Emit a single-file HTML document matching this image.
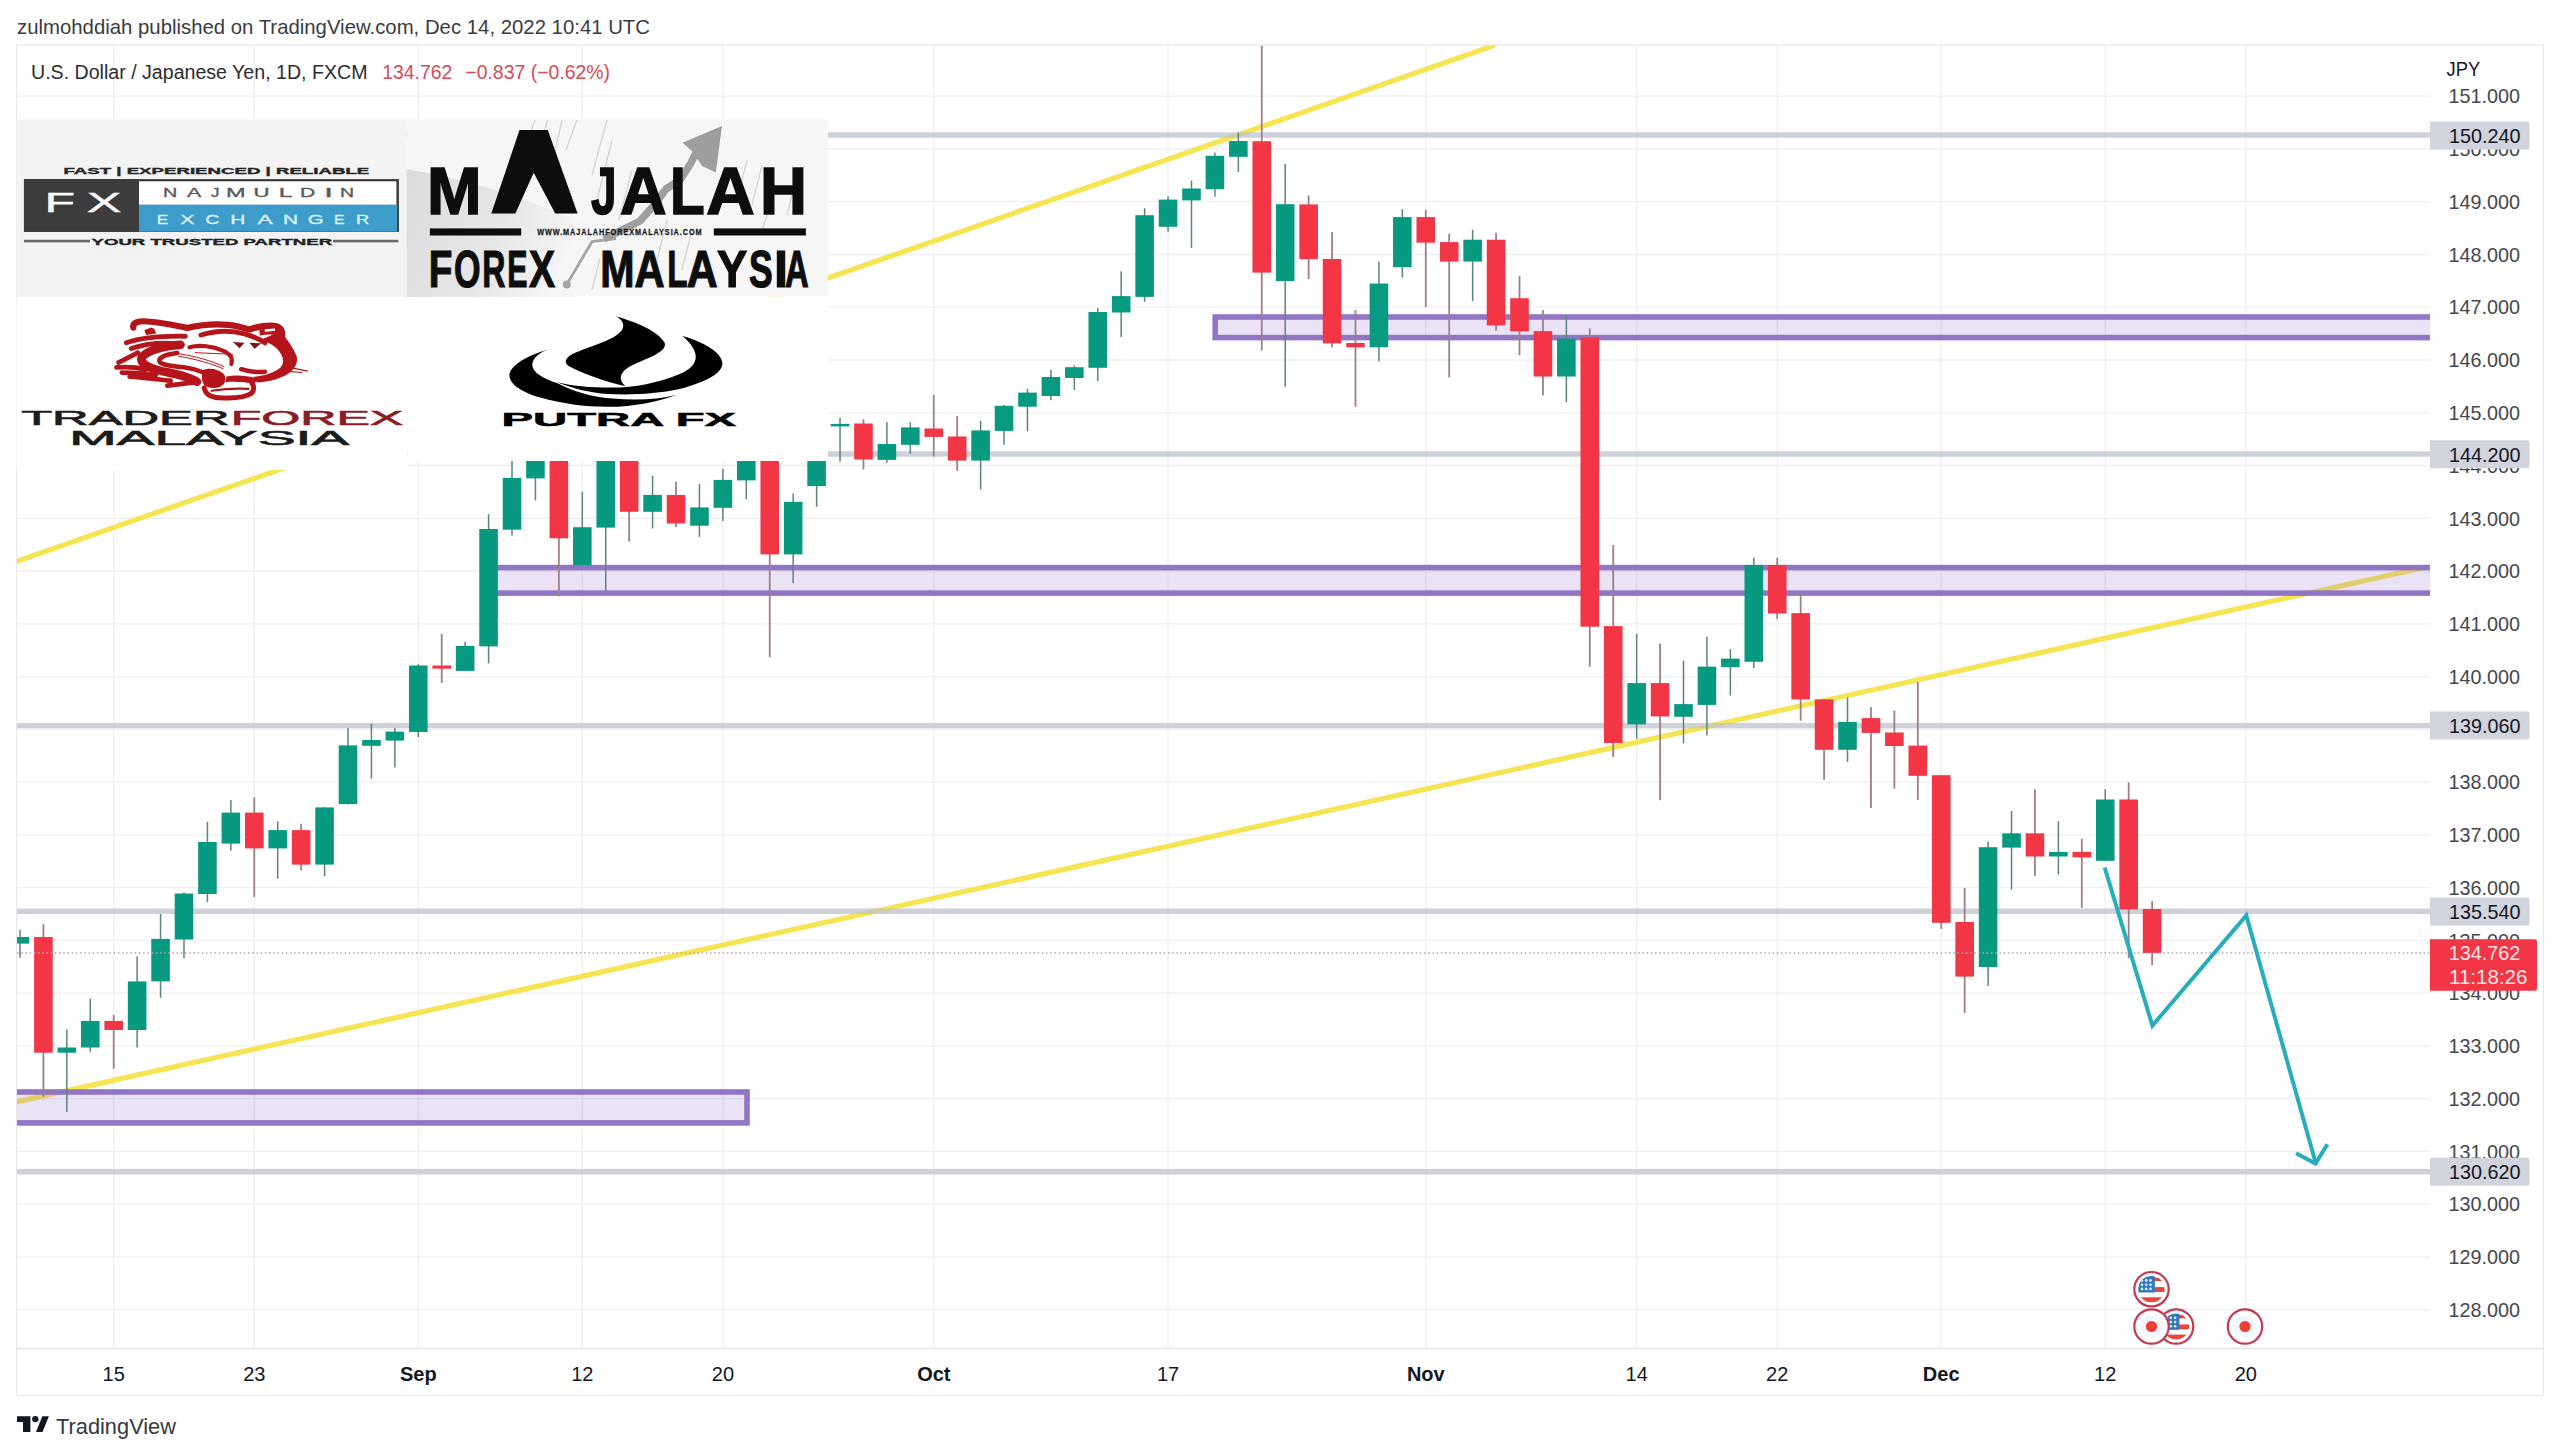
<!DOCTYPE html><html><head><meta charset="utf-8"><title>USDJPY chart</title><style>html,body{margin:0;padding:0;background:#fff;width:2560px;height:1455px;overflow:hidden}svg{position:absolute;left:0;top:0;display:block}text{font-family:"Liberation Sans",sans-serif}</style></head><body><svg width="2560" height="1455" viewBox="0 0 2560 1455"><defs><clipPath id="chart"><rect x="17" y="45.5" width="2413" height="1303"/></clipPath><clipPath id="flag1"><circle cx="2151.5" cy="1289.2" r="13.2"/></clipPath><clipPath id="flag2"><circle cx="2176.1" cy="1326.5" r="13"/></clipPath></defs><text x="17" y="33.6" font-size="20.3" fill="#3a3b3f" textLength="633" lengthAdjust="spacingAndGlyphs">zulmohddiah published on TradingView.com, Dec 14, 2022 10:41 UTC</text><rect x="16.5" y="45" width="2527" height="1350.5" fill="#fff" stroke="#e6e7ea" stroke-width="1.2"/><line x1="16.5" y1="1348.5" x2="2543" y2="1348.5" stroke="#e3e4e8" stroke-width="1.5"/><path d="M17 1309.7H2430 M17 1256.9H2430 M17 1204.2H2430 M17 1151.4H2430 M17 1098.6H2430 M17 1045.9H2430 M17 993.1H2430 M17 940.4H2430 M17 887.6H2430 M17 834.8H2430 M17 782.1H2430 M17 729.3H2430 M17 676.6H2430 M17 623.8H2430 M17 571.0H2430 M17 518.3H2430 M17 465.5H2430 M17 412.8H2430 M17 360.0H2430 M17 307.2H2430 M17 254.5H2430 M17 201.7H2430 M17 149.0H2430 M17 96.2H2430 M113.7 45.5V1348 M254.3 45.5V1348 M418.3 45.5V1348 M582.3 45.5V1348 M722.9 45.5V1348 M933.8 45.5V1348 M1168.0 45.5V1348 M1425.8 45.5V1348 M1636.7 45.5V1348 M1777.2 45.5V1348 M1941.2 45.5V1348 M2105.2 45.5V1348 M2245.8 45.5V1348" stroke="#efeff1" stroke-width="1.3" fill="none"/><g clip-path="url(#chart)"><line x1="10" y1="563.6" x2="1493" y2="45.8" stroke="#f5e552" stroke-width="5.2" stroke-linecap="round"/><line x1="10" y1="1103.3" x2="2424" y2="567.5" stroke="#f5e552" stroke-width="5.2" stroke-linecap="round"/><rect x="1215.2" y="317.0" width="1244.8" height="20.600000000000023" fill="rgba(149,117,205,0.2)" stroke="#9176c4" stroke-width="5.6"/><rect x="487.0" y="567.6" width="1973.0" height="25.5" fill="rgba(149,117,205,0.2)" stroke="#9176c4" stroke-width="5.6"/><rect x="-20" y="1092.0" width="767.0" height="30.90000000000009" fill="rgba(149,117,205,0.2)" stroke="#9176c4" stroke-width="5.6"/><line x1="17" y1="135.0" x2="2430" y2="135.0" stroke="rgba(190,194,205,0.75)" stroke-width="5.4"/><line x1="17" y1="454.0" x2="2430" y2="454.0" stroke="rgba(190,194,205,0.75)" stroke-width="5.4"/><line x1="17" y1="725.6" x2="2430" y2="725.6" stroke="rgba(190,194,205,0.75)" stroke-width="5.4"/><line x1="17" y1="911.3" x2="2430" y2="911.3" stroke="rgba(190,194,205,0.75)" stroke-width="5.4"/><line x1="17" y1="1171.7" x2="2430" y2="1171.7" stroke="rgba(190,194,205,0.75)" stroke-width="5.4"/><rect x="19.23" y="929.8" width="1.5" height="27.9" fill="#5a847f"/><rect x="10.68" y="937" width="18.6" height="6.6" fill="#089981"/><rect x="42.51" y="924.2" width="1.8" height="172.6" fill="#9e7f87"/><rect x="34.11" y="937" width="18.6" height="115.7" fill="#f23645"/><rect x="66.09" y="1029.5" width="1.5" height="82.5" fill="#5a847f"/><rect x="57.54" y="1047.5" width="18.6" height="5.2" fill="#089981"/><rect x="89.52" y="998.6" width="1.5" height="53.2" fill="#5a847f"/><rect x="80.97" y="1020.9" width="18.6" height="26.6" fill="#089981"/><rect x="112.80" y="1014.9" width="1.8" height="53.8" fill="#9e7f87"/><rect x="104.40" y="1020.9" width="18.6" height="9.1" fill="#f23645"/><rect x="136.38" y="956.5" width="1.5" height="91.0" fill="#5a847f"/><rect x="127.83" y="981.4" width="18.6" height="48.6" fill="#089981"/><rect x="159.81" y="914" width="1.5" height="83.7" fill="#5a847f"/><rect x="151.26" y="938.9" width="18.6" height="42.5" fill="#089981"/><rect x="183.24" y="892.4" width="1.5" height="65.8" fill="#5a847f"/><rect x="174.69" y="893.5" width="18.6" height="46.0" fill="#089981"/><rect x="206.67" y="821.8" width="1.5" height="80.3" fill="#5a847f"/><rect x="198.12" y="842" width="18.6" height="52.0" fill="#089981"/><rect x="230.10" y="800" width="1.5" height="50.7" fill="#5a847f"/><rect x="221.55" y="812.6" width="18.6" height="31.0" fill="#089981"/><rect x="253.38" y="797.4" width="1.8" height="99.5" fill="#9e7f87"/><rect x="244.98" y="812.6" width="18.6" height="35.8" fill="#f23645"/><rect x="276.96" y="821.3" width="1.5" height="57.3" fill="#5a847f"/><rect x="268.41" y="830.1" width="18.6" height="18.3" fill="#089981"/><rect x="300.24" y="823.8" width="1.8" height="46.7" fill="#9e7f87"/><rect x="291.84" y="830.1" width="18.6" height="34.5" fill="#f23645"/><rect x="323.82" y="807" width="1.5" height="69.3" fill="#5a847f"/><rect x="315.27" y="807.4" width="18.6" height="57.2" fill="#089981"/><rect x="347.25" y="728.1" width="1.5" height="76.4" fill="#5a847f"/><rect x="338.70" y="745.4" width="18.6" height="58.7" fill="#089981"/><rect x="370.68" y="723.7" width="1.5" height="54.8" fill="#5a847f"/><rect x="362.13" y="740" width="18.6" height="5.8" fill="#089981"/><rect x="394.11" y="728.1" width="1.5" height="39.3" fill="#5a847f"/><rect x="385.56" y="731.6" width="18.6" height="9.0" fill="#089981"/><rect x="417.54" y="664.3" width="1.5" height="72.7" fill="#5a847f"/><rect x="408.99" y="665.5" width="18.6" height="66.5" fill="#089981"/><rect x="440.82" y="633.9" width="1.8" height="49.1" fill="#9e7f87"/><rect x="432.42" y="665.5" width="18.6" height="3.2" fill="#f23645"/><rect x="464.40" y="641.6" width="1.5" height="29.3" fill="#5a847f"/><rect x="455.85" y="645.9" width="18.6" height="25.0" fill="#089981"/><rect x="487.83" y="514.2" width="1.5" height="149.2" fill="#5a847f"/><rect x="479.28" y="529" width="18.6" height="117.4" fill="#089981"/><rect x="511.26" y="440" width="1.5" height="95.6" fill="#5a847f"/><rect x="502.71" y="477.9" width="18.6" height="51.8" fill="#089981"/><rect x="534.69" y="430" width="1.5" height="70.4" fill="#5a847f"/><rect x="526.14" y="440" width="18.6" height="38.4" fill="#089981"/><rect x="557.97" y="430" width="1.8" height="166.4" fill="#9e7f87"/><rect x="549.57" y="440" width="18.6" height="98.3" fill="#f23645"/><rect x="581.55" y="491.8" width="1.5" height="73.2" fill="#5a847f"/><rect x="573.00" y="527.2" width="18.6" height="37.9" fill="#089981"/><rect x="604.98" y="430" width="1.5" height="161.0" fill="#5a847f"/><rect x="596.43" y="440" width="18.6" height="87.6" fill="#089981"/><rect x="628.26" y="430" width="1.8" height="111.5" fill="#9e7f87"/><rect x="619.86" y="440" width="18.6" height="71.8" fill="#f23645"/><rect x="651.84" y="475.7" width="1.5" height="52.8" fill="#5a847f"/><rect x="643.29" y="494.9" width="18.6" height="16.9" fill="#089981"/><rect x="675.12" y="481.5" width="1.8" height="45.5" fill="#9e7f87"/><rect x="666.72" y="495" width="18.6" height="28.5" fill="#f23645"/><rect x="698.70" y="483.9" width="1.5" height="52.9" fill="#5a847f"/><rect x="690.15" y="507.4" width="18.6" height="18.3" fill="#089981"/><rect x="722.13" y="469" width="1.5" height="52.0" fill="#5a847f"/><rect x="713.58" y="479.9" width="18.6" height="27.9" fill="#089981"/><rect x="745.56" y="430" width="1.5" height="69.4" fill="#5a847f"/><rect x="737.01" y="440" width="18.6" height="40.4" fill="#089981"/><rect x="768.84" y="430" width="1.8" height="227.3" fill="#9e7f87"/><rect x="760.44" y="440" width="18.6" height="114.4" fill="#f23645"/><rect x="792.42" y="493.5" width="1.5" height="89.6" fill="#5a847f"/><rect x="783.87" y="501.8" width="18.6" height="52.6" fill="#089981"/><rect x="815.85" y="430" width="1.5" height="76.8" fill="#5a847f"/><rect x="807.30" y="440" width="18.6" height="46.1" fill="#089981"/><rect x="839.28" y="417.7" width="1.5" height="43.9" fill="#5a847f"/><rect x="830.73" y="423.9" width="18.6" height="2.5" fill="#089981"/><rect x="862.56" y="419.3" width="1.8" height="50.2" fill="#9e7f87"/><rect x="854.16" y="423.5" width="18.6" height="36.0" fill="#f23645"/><rect x="886.14" y="422.1" width="1.5" height="40.8" fill="#5a847f"/><rect x="877.59" y="444" width="18.6" height="15.9" fill="#089981"/><rect x="909.57" y="422.1" width="1.5" height="31.7" fill="#5a847f"/><rect x="901.02" y="427.4" width="18.6" height="17.4" fill="#089981"/><rect x="932.85" y="394.9" width="1.8" height="61.7" fill="#9e7f87"/><rect x="924.45" y="428.5" width="18.6" height="8.4" fill="#f23645"/><rect x="956.28" y="415.8" width="1.8" height="55.0" fill="#9e7f87"/><rect x="947.88" y="436.5" width="18.6" height="24.1" fill="#f23645"/><rect x="979.86" y="420.6" width="1.5" height="68.8" fill="#5a847f"/><rect x="971.31" y="430.4" width="18.6" height="30.2" fill="#089981"/><rect x="1003.29" y="405" width="1.5" height="39.8" fill="#5a847f"/><rect x="994.74" y="405.8" width="18.6" height="25.1" fill="#089981"/><rect x="1026.72" y="388.8" width="1.5" height="42.4" fill="#5a847f"/><rect x="1018.17" y="392.6" width="18.6" height="14.1" fill="#089981"/><rect x="1050.15" y="370" width="1.5" height="30.2" fill="#5a847f"/><rect x="1041.60" y="377" width="18.6" height="19.0" fill="#089981"/><rect x="1073.58" y="365.4" width="1.5" height="24.6" fill="#5a847f"/><rect x="1065.03" y="367.2" width="18.6" height="10.8" fill="#089981"/><rect x="1097.01" y="308" width="1.5" height="73.0" fill="#5a847f"/><rect x="1088.46" y="312" width="18.6" height="55.8" fill="#089981"/><rect x="1120.44" y="271.4" width="1.5" height="65.6" fill="#5a847f"/><rect x="1111.89" y="296.1" width="18.6" height="16.4" fill="#089981"/><rect x="1143.87" y="208.3" width="1.5" height="93.5" fill="#5a847f"/><rect x="1135.32" y="215.2" width="18.6" height="81.7" fill="#089981"/><rect x="1167.30" y="196.4" width="1.5" height="35.4" fill="#5a847f"/><rect x="1158.75" y="199.6" width="18.6" height="27.2" fill="#089981"/><rect x="1190.73" y="180.6" width="1.5" height="67.3" fill="#5a847f"/><rect x="1182.18" y="188.5" width="18.6" height="11.9" fill="#089981"/><rect x="1214.16" y="152.6" width="1.5" height="44.0" fill="#5a847f"/><rect x="1205.61" y="155.8" width="18.6" height="33.4" fill="#089981"/><rect x="1237.59" y="132.8" width="1.5" height="39.1" fill="#5a847f"/><rect x="1229.04" y="141" width="18.6" height="15.8" fill="#089981"/><rect x="1260.87" y="45.4" width="1.8" height="305.1" fill="#9e7f87"/><rect x="1252.47" y="141.2" width="18.6" height="131.4" fill="#f23645"/><rect x="1284.45" y="163.8" width="1.5" height="222.8" fill="#5a847f"/><rect x="1275.90" y="204.2" width="18.6" height="76.8" fill="#089981"/><rect x="1307.73" y="195.4" width="1.8" height="83.8" fill="#9e7f87"/><rect x="1299.33" y="204.4" width="18.6" height="54.8" fill="#f23645"/><rect x="1331.16" y="232.1" width="1.8" height="115.2" fill="#9e7f87"/><rect x="1322.76" y="259" width="18.6" height="84.4" fill="#f23645"/><rect x="1354.59" y="310" width="1.8" height="96.8" fill="#9e7f87"/><rect x="1346.19" y="343" width="18.6" height="4.3" fill="#f23645"/><rect x="1378.17" y="261.6" width="1.5" height="99.7" fill="#5a847f"/><rect x="1369.62" y="283.5" width="18.6" height="63.8" fill="#089981"/><rect x="1401.60" y="209.2" width="1.5" height="68.4" fill="#5a847f"/><rect x="1393.05" y="217.1" width="18.6" height="50.1" fill="#089981"/><rect x="1424.88" y="209.8" width="1.8" height="97.3" fill="#9e7f87"/><rect x="1416.48" y="217.1" width="18.6" height="25.6" fill="#f23645"/><rect x="1448.31" y="233.7" width="1.8" height="143.6" fill="#9e7f87"/><rect x="1439.91" y="242.1" width="18.6" height="19.5" fill="#f23645"/><rect x="1471.89" y="229.7" width="1.5" height="71.4" fill="#5a847f"/><rect x="1463.34" y="239.7" width="18.6" height="21.9" fill="#089981"/><rect x="1495.17" y="232.7" width="1.8" height="97.9" fill="#9e7f87"/><rect x="1486.77" y="239.7" width="18.6" height="85.7" fill="#f23645"/><rect x="1518.60" y="276.1" width="1.8" height="79.1" fill="#9e7f87"/><rect x="1510.20" y="298.2" width="18.6" height="33.2" fill="#f23645"/><rect x="1542.03" y="310.1" width="1.8" height="85.3" fill="#9e7f87"/><rect x="1533.63" y="331.1" width="18.6" height="45.4" fill="#f23645"/><rect x="1565.61" y="316.3" width="1.5" height="85.9" fill="#5a847f"/><rect x="1557.06" y="338.5" width="18.6" height="38.0" fill="#089981"/><rect x="1588.89" y="328.6" width="1.8" height="338.0" fill="#9e7f87"/><rect x="1580.49" y="337.3" width="18.6" height="289.4" fill="#f23645"/><rect x="1612.32" y="545" width="1.8" height="211.9" fill="#9e7f87"/><rect x="1603.92" y="626.1" width="18.6" height="116.9" fill="#f23645"/><rect x="1635.90" y="633.7" width="1.5" height="105.3" fill="#5a847f"/><rect x="1627.35" y="683.1" width="18.6" height="41.3" fill="#089981"/><rect x="1659.18" y="643.7" width="1.8" height="156.5" fill="#9e7f87"/><rect x="1650.78" y="683.1" width="18.6" height="33.3" fill="#f23645"/><rect x="1682.76" y="660.6" width="1.5" height="82.8" fill="#5a847f"/><rect x="1674.21" y="704.1" width="18.6" height="12.7" fill="#089981"/><rect x="1706.19" y="636.7" width="1.5" height="98.7" fill="#5a847f"/><rect x="1697.64" y="666.6" width="18.6" height="38.3" fill="#089981"/><rect x="1729.62" y="649.2" width="1.5" height="46.3" fill="#5a847f"/><rect x="1721.07" y="658.6" width="18.6" height="8.6" fill="#089981"/><rect x="1753.05" y="557.6" width="1.5" height="110.4" fill="#5a847f"/><rect x="1744.50" y="565" width="18.6" height="96.8" fill="#089981"/><rect x="1776.33" y="557.7" width="1.8" height="61.2" fill="#9e7f87"/><rect x="1767.93" y="565" width="18.6" height="48.5" fill="#f23645"/><rect x="1799.76" y="592" width="1.8" height="128.6" fill="#9e7f87"/><rect x="1791.36" y="613.1" width="18.6" height="86.3" fill="#f23645"/><rect x="1823.19" y="699" width="1.8" height="80.7" fill="#9e7f87"/><rect x="1814.79" y="699.4" width="18.6" height="50.4" fill="#f23645"/><rect x="1846.77" y="697.5" width="1.5" height="64.5" fill="#5a847f"/><rect x="1838.22" y="721.9" width="18.6" height="27.9" fill="#089981"/><rect x="1870.05" y="707.1" width="1.8" height="100.9" fill="#9e7f87"/><rect x="1861.65" y="718.1" width="18.6" height="14.8" fill="#f23645"/><rect x="1893.48" y="710.4" width="1.8" height="78.3" fill="#9e7f87"/><rect x="1885.08" y="732.5" width="18.6" height="13.5" fill="#f23645"/><rect x="1916.91" y="682" width="1.8" height="117.9" fill="#9e7f87"/><rect x="1908.51" y="745.6" width="18.6" height="30.2" fill="#f23645"/><rect x="1940.34" y="775" width="1.8" height="153.9" fill="#9e7f87"/><rect x="1931.94" y="775.2" width="18.6" height="147.6" fill="#f23645"/><rect x="1963.77" y="888" width="1.8" height="124.8" fill="#9e7f87"/><rect x="1955.37" y="922" width="18.6" height="54.6" fill="#f23645"/><rect x="1987.35" y="841.7" width="1.5" height="144.3" fill="#5a847f"/><rect x="1978.80" y="847.2" width="18.6" height="119.8" fill="#089981"/><rect x="2010.78" y="811" width="1.5" height="78.4" fill="#5a847f"/><rect x="2002.23" y="833.3" width="18.6" height="14.3" fill="#089981"/><rect x="2034.06" y="789.3" width="1.8" height="86.7" fill="#9e7f87"/><rect x="2025.66" y="833.3" width="18.6" height="23.2" fill="#f23645"/><rect x="2057.64" y="821.2" width="1.5" height="53.3" fill="#5a847f"/><rect x="2049.09" y="851.9" width="18.6" height="4.6" fill="#089981"/><rect x="2080.92" y="838.9" width="1.8" height="69.0" fill="#9e7f87"/><rect x="2072.52" y="851.9" width="18.6" height="5.5" fill="#f23645"/><rect x="2104.50" y="789.3" width="1.5" height="71.5" fill="#5a847f"/><rect x="2095.95" y="799.5" width="18.6" height="61.3" fill="#089981"/><rect x="2127.78" y="782.3" width="1.8" height="175.9" fill="#9e7f87"/><rect x="2119.38" y="799.5" width="18.6" height="109.9" fill="#f23645"/><rect x="2151.21" y="901" width="1.8" height="64.1" fill="#9e7f87"/><rect x="2142.81" y="909" width="18.6" height="44.0" fill="#f23645"/><line x1="17" y1="953" x2="2430" y2="953" stroke="#b9a3a8" stroke-width="1.3" stroke-dasharray="1.6 2.6"/><polyline points="2104.7,867.6 2152.4,1025.6 2246.3,915.5 2315.5,1162.2" fill="none" stroke="#28adbd" stroke-width="4" stroke-linejoin="miter" stroke-linecap="butt"/><polyline points="2296.1,1153.2 2315.5,1163.5 2327.4,1144.2" fill="none" stroke="#28adbd" stroke-width="4" stroke-linejoin="miter"/></g><circle cx="2151.5" cy="1289.2" r="17.2" fill="#fff" stroke="#c23b52" stroke-width="2.2"/><g clip-path="url(#flag1)"><rect x="2138.3" y="1276.0" width="26.4" height="26.4" fill="#fff"/><rect x="2138.3" y="1277.60" width="26.4" height="3.50" fill="#e8453c"/><rect x="2138.3" y="1287.10" width="26.4" height="4.90" fill="#e8453c"/><rect x="2138.3" y="1297.30" width="26.4" height="5.10" fill="#e8453c"/><rect x="2138.3" y="1276.0" width="16.5" height="16.5" fill="#3478c0"/><circle cx="2142.00" cy="1280.40" r="1.3" fill="#dff0ff"/><circle cx="2142.00" cy="1284.70" r="1.3" fill="#dff0ff"/><circle cx="2142.00" cy="1288.90" r="1.3" fill="#dff0ff"/><circle cx="2146.20" cy="1280.40" r="1.3" fill="#dff0ff"/><circle cx="2146.20" cy="1284.70" r="1.3" fill="#dff0ff"/><circle cx="2146.20" cy="1288.90" r="1.3" fill="#dff0ff"/><circle cx="2150.50" cy="1280.40" r="1.3" fill="#dff0ff"/><circle cx="2150.50" cy="1284.70" r="1.3" fill="#dff0ff"/><circle cx="2150.50" cy="1288.90" r="1.3" fill="#dff0ff"/></g><circle cx="2176.1" cy="1326.5" r="17.2" fill="#fff" stroke="#c23b52" stroke-width="2.2"/><g clip-path="url(#flag2)"><rect x="2162.9" y="1313.3" width="26.4" height="26.4" fill="#fff"/><rect x="2162.9" y="1314.90" width="26.4" height="3.50" fill="#e8453c"/><rect x="2162.9" y="1324.40" width="26.4" height="4.90" fill="#e8453c"/><rect x="2162.9" y="1334.60" width="26.4" height="5.10" fill="#e8453c"/><rect x="2162.9" y="1313.3" width="16.5" height="16.5" fill="#3478c0"/><circle cx="2166.60" cy="1317.70" r="1.3" fill="#dff0ff"/><circle cx="2166.60" cy="1322.00" r="1.3" fill="#dff0ff"/><circle cx="2166.60" cy="1326.20" r="1.3" fill="#dff0ff"/><circle cx="2170.80" cy="1317.70" r="1.3" fill="#dff0ff"/><circle cx="2170.80" cy="1322.00" r="1.3" fill="#dff0ff"/><circle cx="2170.80" cy="1326.20" r="1.3" fill="#dff0ff"/><circle cx="2175.10" cy="1317.70" r="1.3" fill="#dff0ff"/><circle cx="2175.10" cy="1322.00" r="1.3" fill="#dff0ff"/><circle cx="2175.10" cy="1326.20" r="1.3" fill="#dff0ff"/></g><circle cx="2151.5" cy="1326.5" r="17.2" fill="#fff" stroke="#c23b52" stroke-width="2.2"/><circle cx="2151.5" cy="1326.5" r="11" fill="#f3f6fc"/><circle cx="2151.5" cy="1326.5" r="5.6" fill="#ee4036"/><circle cx="2245" cy="1326.5" r="17.2" fill="#fff" stroke="#c23b52" stroke-width="2.2"/><circle cx="2245" cy="1326.5" r="11" fill="#f3f6fc"/><circle cx="2245" cy="1326.5" r="5.6" fill="#ee4036"/><g><defs><linearGradient id="gblob" x1="0" y1="0" x2="1" y2="0.3"><stop offset="0" stop-color="#d4d4d4"/><stop offset="0.6" stop-color="#e3e3e3"/><stop offset="1" stop-color="#f5f5f5"/></linearGradient></defs><rect x="16.5" y="119.5" width="390" height="178" fill="#f3f3f3"/><rect x="406.5" y="119.5" width="421.5" height="177" fill="#f6f6f6"/><rect x="16.5" y="297" width="391" height="173" fill="#fff"/><rect x="407.5" y="296.5" width="420.5" height="164.5" fill="#fff"/><text x="63.42" y="174" font-size="9.2" font-weight="bold" fill="#262626" stroke="#262626" stroke-width="0.35" textLength="305.86" lengthAdjust="spacingAndGlyphs">FAST | EXPERIENCED | RELIABLE</text><rect x="25" y="180.2" width="372.5" height="50.6" fill="#fff" stroke="#3a3a3a" stroke-width="2.2"/><rect x="24" y="179.2" width="115" height="52.6" fill="#3c3c3c"/><rect x="139" y="204.6" width="259.5" height="27" fill="#3d9cca"/><rect x="397" y="179.2" width="2" height="52.6" fill="#444"/><text x="44.47" y="211.8" font-size="28" fill="#fbfbfb" stroke="#fbfbfb" stroke-width="0.4" textLength="30.57" lengthAdjust="spacingAndGlyphs">F</text><text x="86.83" y="211.8" font-size="28" fill="#fbfbfb" stroke="#fbfbfb" stroke-width="0.4" textLength="34.61" lengthAdjust="spacingAndGlyphs">X</text><text x="163.02" y="197.4" font-size="12.4" fill="#5a5a5a" stroke="#5a5a5a" stroke-width="0.3" textLength="14.25" lengthAdjust="spacingAndGlyphs">N</text><text x="187.10" y="197.4" font-size="12.4" fill="#5a5a5a" stroke="#5a5a5a" stroke-width="0.3" textLength="14.20" lengthAdjust="spacingAndGlyphs">A</text><text x="210.90" y="197.4" font-size="12.4" fill="#5a5a5a" stroke="#5a5a5a" stroke-width="0.3" textLength="8.41" lengthAdjust="spacingAndGlyphs">J</text><text x="226.01" y="197.4" font-size="12.4" fill="#5a5a5a" stroke="#5a5a5a" stroke-width="0.3" textLength="19.59" lengthAdjust="spacingAndGlyphs">M</text><text x="253.43" y="197.4" font-size="12.4" fill="#5a5a5a" stroke="#5a5a5a" stroke-width="0.3" textLength="16.03" lengthAdjust="spacingAndGlyphs">U</text><text x="278.81" y="197.4" font-size="12.4" fill="#5a5a5a" stroke="#5a5a5a" stroke-width="0.3" textLength="13.78" lengthAdjust="spacingAndGlyphs">L</text><text x="299.91" y="197.4" font-size="12.4" fill="#5a5a5a" stroke="#5a5a5a" stroke-width="0.3" textLength="15.24" lengthAdjust="spacingAndGlyphs">D</text><text x="324.35" y="197.4" font-size="12.4" fill="#5a5a5a" stroke="#5a5a5a" stroke-width="0.3" textLength="8.71" lengthAdjust="spacingAndGlyphs">I</text><text x="340.04" y="197.4" font-size="12.4" fill="#5a5a5a" stroke="#5a5a5a" stroke-width="0.3" textLength="14.12" lengthAdjust="spacingAndGlyphs">N</text><text x="156.84" y="224.1" font-size="12.4" fill="#def2f8" stroke="#def2f8" stroke-width="0.3" textLength="11.43" lengthAdjust="spacingAndGlyphs">E</text><text x="180.27" y="224.1" font-size="12.4" fill="#def2f8" stroke="#def2f8" stroke-width="0.3" textLength="14.25" lengthAdjust="spacingAndGlyphs">X</text><text x="205.36" y="224.1" font-size="12.4" fill="#def2f8" stroke="#def2f8" stroke-width="0.3" textLength="14.27" lengthAdjust="spacingAndGlyphs">C</text><text x="230.22" y="224.1" font-size="12.4" fill="#def2f8" stroke="#def2f8" stroke-width="0.3" textLength="15.16" lengthAdjust="spacingAndGlyphs">H</text><text x="257.49" y="224.1" font-size="12.4" fill="#def2f8" stroke="#def2f8" stroke-width="0.3" textLength="15.10" lengthAdjust="spacingAndGlyphs">A</text><text x="283.12" y="224.1" font-size="12.4" fill="#def2f8" stroke="#def2f8" stroke-width="0.3" textLength="15.16" lengthAdjust="spacingAndGlyphs">N</text><text x="307.83" y="224.1" font-size="12.4" fill="#def2f8" stroke="#def2f8" stroke-width="0.3" textLength="15.86" lengthAdjust="spacingAndGlyphs">G</text><text x="333.96" y="224.1" font-size="12.4" fill="#def2f8" stroke="#def2f8" stroke-width="0.3" textLength="10.45" lengthAdjust="spacingAndGlyphs">E</text><text x="356.13" y="224.1" font-size="12.4" fill="#def2f8" stroke="#def2f8" stroke-width="0.3" textLength="13.29" lengthAdjust="spacingAndGlyphs">R</text><rect x="24" y="239.8" width="66" height="2.6" fill="#6a6a6a"/><rect x="333" y="239.8" width="65.5" height="2.6" fill="#6a6a6a"/><text x="91.55" y="244.5" font-size="9.8" font-weight="bold" fill="#222" stroke="#222" stroke-width="0.35" textLength="240.58" lengthAdjust="spacingAndGlyphs">YOUR TRUSTED PARTNER</text><path d="M406.5 169.5 C450 175 520 195 590 226 L575 297 L406.5 297 Z" fill="url(#gblob)" opacity="0.8"/><path d="M535 120L527 142 M548 120L538 150 M562 120L553 160 M577 120L566 150 M607 120L592 175 M612 140L597 200 M632 170L619 220 M667 220L657 260 M692 230L682 270 M747 160L737 200 M762 165L752 205 M797 175L787 215 M772 200L762 230 M600 258L592 290" stroke="#d5d6d8" stroke-width="1.4" fill="none"/><path d="M566.8 284.4 L592 241.7 L616 238.5" stroke="#a5a5a5" stroke-width="2.8" fill="none" stroke-linejoin="round"/><circle cx="566.8" cy="284.4" r="4" fill="#a5a5a5"/><polyline points="604,239 640,221 655,204 666,189 680,180 691,163 697,150" stroke="#9e9e9e" stroke-width="7.5" fill="none" stroke-linejoin="round"/><polygon points="722,126 682.4,142.7 692,151 702,166 715.8,172.4" fill="#9e9e9e"/><text x="427.08" y="213.5" font-size="66" font-weight="bold" fill="#0d0d0d" stroke="#0d0d0d" stroke-width="1.6" textLength="54.58" lengthAdjust="spacingAndGlyphs">M</text><path d="M491.3 213.5 L519.5 130 L547.8 130 L577.6 213.5 L555.2 213.5 L533.7 172.8 L515.4 213.5 Z" fill="#0d0d0d"/><text x="591.01" y="213.5" font-size="66" font-weight="bold" fill="#0d0d0d" stroke="#0d0d0d" stroke-width="1.6" textLength="25.54" lengthAdjust="spacingAndGlyphs">J</text><text x="619.99" y="213.5" font-size="66" font-weight="bold" fill="#0d0d0d" stroke="#0d0d0d" stroke-width="1.6" textLength="46.56" lengthAdjust="spacingAndGlyphs">A</text><text x="670.07" y="213.5" font-size="66" font-weight="bold" fill="#0d0d0d" stroke="#0d0d0d" stroke-width="1.6" textLength="34.68" lengthAdjust="spacingAndGlyphs">L</text><text x="706.22" y="213.5" font-size="66" font-weight="bold" fill="#0d0d0d" stroke="#0d0d0d" stroke-width="1.6" textLength="48.40" lengthAdjust="spacingAndGlyphs">A</text><text x="760.01" y="213.5" font-size="66" font-weight="bold" fill="#0d0d0d" stroke="#0d0d0d" stroke-width="1.6" textLength="46.96" lengthAdjust="spacingAndGlyphs">H</text><rect x="429.9" y="228.4" width="91.3" height="7.1" fill="#0d0d0d"/><rect x="713.8" y="228.4" width="92.1" height="7.1" fill="#0d0d0d"/><text x="537.13" y="235.1" font-size="9.4" font-weight="bold" fill="#1a1a1a" stroke="#1a1a1a" stroke-width="0.3" textLength="165.40" lengthAdjust="spacingAndGlyphs" letter-spacing="1.2">WWW.MAJALAHFOREXMALAYSIA.COM</text><text x="428.69" y="287.3" font-size="52" font-weight="bold" fill="#0d0d0d" stroke="#0d0d0d" stroke-width="1.2" textLength="23.59" lengthAdjust="spacingAndGlyphs">F</text><text x="454.04" y="287.3" font-size="52" font-weight="bold" fill="#0d0d0d" stroke="#0d0d0d" stroke-width="1.2" textLength="26.53" lengthAdjust="spacingAndGlyphs">O</text><text x="482.33" y="287.3" font-size="52" font-weight="bold" fill="#0d0d0d" stroke="#0d0d0d" stroke-width="1.2" textLength="23.18" lengthAdjust="spacingAndGlyphs">R</text><text x="507.35" y="287.3" font-size="52" font-weight="bold" fill="#0d0d0d" stroke="#0d0d0d" stroke-width="1.2" textLength="20.25" lengthAdjust="spacingAndGlyphs">E</text><text x="528.91" y="287.3" font-size="52" font-weight="bold" fill="#0d0d0d" stroke="#0d0d0d" stroke-width="1.2" textLength="26.06" lengthAdjust="spacingAndGlyphs">X</text><text x="600.32" y="287.3" font-size="52" font-weight="bold" fill="#0d0d0d" stroke="#0d0d0d" stroke-width="1.2" textLength="34.28" lengthAdjust="spacingAndGlyphs">M</text><text x="634.46" y="287.3" font-size="52" font-weight="bold" fill="#0d0d0d" stroke="#0d0d0d" stroke-width="1.2" textLength="30.07" lengthAdjust="spacingAndGlyphs">A</text><text x="667.36" y="287.3" font-size="52" font-weight="bold" fill="#0d0d0d" stroke="#0d0d0d" stroke-width="1.2" textLength="20.26" lengthAdjust="spacingAndGlyphs">L</text><text x="686.73" y="287.3" font-size="52" font-weight="bold" fill="#0d0d0d" stroke="#0d0d0d" stroke-width="1.2" textLength="30.94" lengthAdjust="spacingAndGlyphs">A</text><text x="716.91" y="287.3" font-size="52" font-weight="bold" fill="#0d0d0d" stroke="#0d0d0d" stroke-width="1.2" textLength="30.27" lengthAdjust="spacingAndGlyphs">Y</text><text x="749.04" y="287.3" font-size="52" font-weight="bold" fill="#0d0d0d" stroke="#0d0d0d" stroke-width="1.2" textLength="23.67" lengthAdjust="spacingAndGlyphs">S</text><text x="773.99" y="287.3" font-size="52" font-weight="bold" fill="#0d0d0d" stroke="#0d0d0d" stroke-width="1.2" textLength="14.04" lengthAdjust="spacingAndGlyphs">I</text><text x="784.98" y="287.3" font-size="52" font-weight="bold" fill="#0d0d0d" stroke="#0d0d0d" stroke-width="1.2" textLength="23.71" lengthAdjust="spacingAndGlyphs">A</text><g transform="translate(105,310) scale(0.08203)" fill="none" stroke="#b5141b" stroke-linecap="round" stroke-linejoin="round"><path stroke-width="75" d="M345,215 C330,150 420,130 520,140 C700,150 850,190 1000,218 C1150,185 1350,168 1500,182 C1600,192 1680,215 1760,238 C1850,205 1950,185 2060,192 C2140,202 2170,250 2160,320"/><path stroke="none" fill="#b5141b" d="M2140,260 C2220,360 2290,450 2335,560 C2360,650 2300,730 2240,770 C2150,835 2000,875 1850,885 L1810,815 C1950,800 2070,760 2140,700 C2195,640 2175,560 2095,470 C2045,420 1975,385 1895,365 Z"/><path stroke="none" fill="#b5141b" d="M1880,250 C1970,195 2080,185 2150,228 L2175,330 C2110,300 2000,290 1890,310 Z"/><path stroke="#fff" stroke-width="30" d="M1960,250 L2060,240"/><path stroke-width="60" d="M1170,305 C1350,250 1550,250 1700,290 C1800,320 1880,350 1950,400"/><path stroke-width="105" d="M920,425 C700,435 505,500 445,580 C420,660 560,720 760,760 C900,790 1050,825 1120,875"/><path stroke-width="55" d="M880,525 C720,545 645,585 665,632 C695,672 820,682 980,702 C1080,717 1150,742 1200,762"/><path stroke-width="58" d="M260,400 C400,350 600,312 980,320 M320,470 C480,420 650,392 830,410 M165,640 C250,600 320,560 400,520 M140,700 C300,690 400,700 500,722 M205,762 C400,762 500,772 620,792 M300,812 C450,822 600,842 800,862 M760,922 C900,902 1000,892 1100,882"/><path stroke-width="50" d="M1030,455 C1150,420 1320,440 1450,500 C1530,540 1560,600 1540,660"/><path stroke-width="12" d="M870,530 C1100,560 1300,620 1450,690 M900,565 C1100,595 1300,655 1440,715 M1100,520 L1560,540"/><path stroke="none" fill="#7d0f15" d="M1560,390 L1700,400 L1640,465 Z M1760,400 L1905,405 L1825,472 Z"/><path stroke="none" fill="#b5141b" d="M1195,735 C1280,695 1385,725 1445,778 C1490,830 1470,905 1405,935 C1330,965 1245,955 1205,905 C1175,862 1175,790 1195,735 Z"/><path stroke-width="62" d="M1210,950 C1230,1040 1300,1072 1450,1072 C1600,1077 1720,1062 1790,1012 C1822,972 1812,922 1792,892"/><path stroke-width="26" d="M1300,985 C1450,962 1600,952 1750,962"/><path stroke-width="55" d="M1660,722 C1750,752 1850,762 1950,752"/><path stroke-width="14" d="M2200,690 L2470,745 M2150,742 L2400,762"/><path stroke="none" fill="#b5141b" d="M480,245 L525,228 L560,212 L600,228 L625,285 L500,305 Z"/><path stroke="none" fill="#b5141b" d="M1480,810 C1600,790 1750,800 1860,840 L1820,900 C1700,880 1600,870 1470,880 Z"/></g><text x="21.16" y="425" font-size="20.6" fill="#1c1c1c" stroke="#1c1c1c" stroke-width="0.6" textLength="208.39" lengthAdjust="spacingAndGlyphs">TRADER</text><text x="230.67" y="425" font-size="20.6" fill="#8a1d27" stroke="#8a1d27" stroke-width="0.6" textLength="172.66" lengthAdjust="spacingAndGlyphs">FOREX</text><text x="69.21" y="445.3" font-size="20.6" fill="#1c1c1c" stroke="#1c1c1c" stroke-width="0.6" textLength="280.05" lengthAdjust="spacingAndGlyphs">MALAYSIA</text><g transform="translate(500,310) scale(0.08985)" fill="#000"><path d="M560,430 C380,480 150,580 108,700 C80,820 250,920 450,975 C700,1045 950,1080 1200,1078 C1500,1075 1750,1020 1960,945 C1750,1000 1500,1005 1250,985 C1000,965 800,900 640,815 C480,760 370,700 360,620 C355,540 430,470 560,430 Z"/><path d="M630,800 C800,850 1100,870 1340,862 C1600,850 1850,780 2050,690 C2220,600 2230,460 2030,290 C2250,350 2470,470 2475,590 C2480,700 2300,800 2000,880 C1750,935 1450,950 1200,935 C1000,920 800,870 630,800 Z"/><path d="M1290,70 C1500,130 1750,230 1830,360 C1870,450 1700,520 1500,600 C1340,670 1300,760 1400,850 C1150,790 900,700 760,620 C700,580 740,510 850,470 C1050,390 1280,330 1360,220 C1390,150 1360,110 1290,70 Z"/></g><text x="501.56" y="426.3" font-size="18.2" font-weight="bold" fill="#000" stroke="#000" stroke-width="0.5" textLength="234.49" lengthAdjust="spacingAndGlyphs">PUTRA FX</text></g><text x="31" y="78.6" font-size="19.6" fill="#2a2c31" textLength="336.5" lengthAdjust="spacingAndGlyphs">U.S. Dollar / Japanese Yen, 1D, FXCM</text><text x="382.3" y="78.6" font-size="19.6" fill="#d64a5a" textLength="70" lengthAdjust="spacingAndGlyphs">134.762</text><text x="465.3" y="78.6" font-size="19.6" fill="#d64a5a" textLength="144.8" lengthAdjust="spacingAndGlyphs">−0.837 (−0.62%)</text><text x="2446.6" y="75.6" font-size="20.5" fill="#131722" textLength="33.5" lengthAdjust="spacingAndGlyphs">JPY</text><text x="2520" y="1316.9" font-size="19.8" fill="#45474d" text-anchor="end">128.000</text><text x="2520" y="1264.1" font-size="19.8" fill="#45474d" text-anchor="end">129.000</text><text x="2520" y="1211.4" font-size="19.8" fill="#45474d" text-anchor="end">130.000</text><text x="2520" y="1158.6" font-size="19.8" fill="#45474d" text-anchor="end">131.000</text><text x="2520" y="1105.8" font-size="19.8" fill="#45474d" text-anchor="end">132.000</text><text x="2520" y="1053.1" font-size="19.8" fill="#45474d" text-anchor="end">133.000</text><text x="2520" y="1000.3" font-size="19.8" fill="#45474d" text-anchor="end">134.000</text><text x="2520" y="947.6" font-size="19.8" fill="#45474d" text-anchor="end">135.000</text><text x="2520" y="894.8" font-size="19.8" fill="#45474d" text-anchor="end">136.000</text><text x="2520" y="842.0" font-size="19.8" fill="#45474d" text-anchor="end">137.000</text><text x="2520" y="789.3" font-size="19.8" fill="#45474d" text-anchor="end">138.000</text><text x="2520" y="736.5" font-size="19.8" fill="#45474d" text-anchor="end">139.000</text><text x="2520" y="683.8" font-size="19.8" fill="#45474d" text-anchor="end">140.000</text><text x="2520" y="631.0" font-size="19.8" fill="#45474d" text-anchor="end">141.000</text><text x="2520" y="578.2" font-size="19.8" fill="#45474d" text-anchor="end">142.000</text><text x="2520" y="525.5" font-size="19.8" fill="#45474d" text-anchor="end">143.000</text><text x="2520" y="472.7" font-size="19.8" fill="#45474d" text-anchor="end">144.000</text><text x="2520" y="420.0" font-size="19.8" fill="#45474d" text-anchor="end">145.000</text><text x="2520" y="367.2" font-size="19.8" fill="#45474d" text-anchor="end">146.000</text><text x="2520" y="314.4" font-size="19.8" fill="#45474d" text-anchor="end">147.000</text><text x="2520" y="261.7" font-size="19.8" fill="#45474d" text-anchor="end">148.000</text><text x="2520" y="208.9" font-size="19.8" fill="#45474d" text-anchor="end">149.000</text><text x="2520" y="156.2" font-size="19.8" fill="#45474d" text-anchor="end">150.000</text><text x="2520" y="103.4" font-size="19.8" fill="#45474d" text-anchor="end">151.000</text><path d="M2430 121.5 H2527 Q2529.5 121.5 2529.5 124.0 V147.0 Q2529.5 149.5 2527 149.5 H2430 Z" fill="#d1d4dc"/><text x="2520.5" y="142.7" font-size="19.8" fill="#131722" text-anchor="end">150.240</text><path d="M2430 440.3 H2527 Q2529.5 440.3 2529.5 442.8 V465.8 Q2529.5 468.3 2527 468.3 H2430 Z" fill="#d1d4dc"/><text x="2520.5" y="461.5" font-size="19.8" fill="#131722" text-anchor="end">144.200</text><path d="M2430 711.6 H2527 Q2529.5 711.6 2529.5 714.1 V737.1 Q2529.5 739.6 2527 739.6 H2430 Z" fill="#d1d4dc"/><text x="2520.5" y="732.8" font-size="19.8" fill="#131722" text-anchor="end">139.060</text><path d="M2430 897.6 H2527 Q2529.5 897.6 2529.5 900.1 V923.1 Q2529.5 925.6 2527 925.6 H2430 Z" fill="#d1d4dc"/><text x="2520.5" y="918.8" font-size="19.8" fill="#131722" text-anchor="end">135.540</text><path d="M2430 1157.7 H2527 Q2529.5 1157.7 2529.5 1160.2 V1183.2 Q2529.5 1185.7 2527 1185.7 H2430 Z" fill="#d1d4dc"/><text x="2520.5" y="1178.9" font-size="19.8" fill="#131722" text-anchor="end">130.620</text><path d="M2430 939.2 H2534.5 Q2537 939.2 2537 941.7 V988.2 Q2537 990.7 2534.5 990.7 H2430 Z" fill="#f23645"/><text x="2520.3" y="960" font-size="19.8" fill="#ffe4e7" text-anchor="end">134.762</text><text x="2449" y="983.6" font-size="19.8" fill="#ffe4e7" textLength="78.5" lengthAdjust="spacingAndGlyphs">11:18:26</text><text x="113.7" y="1380.6" font-size="20" fill="#131722" text-anchor="middle">15</text><text x="254.3" y="1380.6" font-size="20" fill="#131722" text-anchor="middle">23</text><text x="418.3" y="1380.6" font-size="20" fill="#131722" text-anchor="middle" font-weight="bold">Sep</text><text x="582.3" y="1380.6" font-size="20" fill="#131722" text-anchor="middle">12</text><text x="722.9" y="1380.6" font-size="20" fill="#131722" text-anchor="middle">20</text><text x="933.8" y="1380.6" font-size="20" fill="#131722" text-anchor="middle" font-weight="bold">Oct</text><text x="1168.0" y="1380.6" font-size="20" fill="#131722" text-anchor="middle">17</text><text x="1425.8" y="1380.6" font-size="20" fill="#131722" text-anchor="middle" font-weight="bold">Nov</text><text x="1636.7" y="1380.6" font-size="20" fill="#131722" text-anchor="middle">14</text><text x="1777.2" y="1380.6" font-size="20" fill="#131722" text-anchor="middle">22</text><text x="1941.2" y="1380.6" font-size="20" fill="#131722" text-anchor="middle" font-weight="bold">Dec</text><text x="2105.2" y="1380.6" font-size="20" fill="#131722" text-anchor="middle">12</text><text x="2245.8" y="1380.6" font-size="20" fill="#131722" text-anchor="middle">20</text><path d="M17 1416.3 H30.4 V1432.1 H23 V1421.9 H17 Z" fill="#131722"/><circle cx="35.3" cy="1419.1" r="3.2" fill="#131722"/><path d="M42.3 1416.3 H48.9 L42.5 1432.1 H36 Z" fill="#131722"/><text x="56" y="1433.8" font-size="22.4" fill="#36383e" textLength="120" lengthAdjust="spacingAndGlyphs">TradingView</text></svg></body></html>
